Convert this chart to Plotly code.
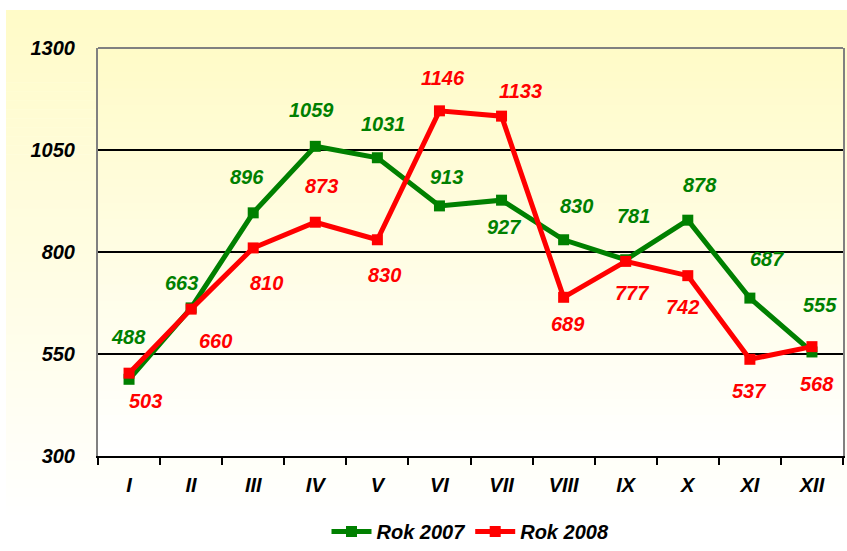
import plotly.graph_objects as go

# ---- data ----
months = ["I", "II", "III", "IV", "V", "VI", "VII", "VIII", "IX", "X", "XI", "XII"]
rok_2007 = [488, 663, 896, 1059, 1031, 913, 927, 830, 781, 878, 687, 555]
rok_2008 = [503, 660, 810, 873, 830, 1146, 1133, 689, 777, 742, 537, 568]
y_ticks = [300, 550, 800, 1050, 1300]

# ---- styles ----
W, H = 847, 551
ML, MR, MT, MB = 98, 4, 48, 95
PW, PH = W - ML - MR, H - MT - MB
GREEN, RED = "#008000", "#FF0000"
FONT = "Liberation Sans, Arial, sans-serif"

# label offsets (xshift, yshift) in px
off_2007 = [(-1, 42), (-10, 25), (-6, 36), (-4, 36), (6, 34), (7, 29), (2, -27),
            (13, 34), (8, 44), (12, 35), (17, 39), (8, 47)]
off_2008 = [(16, -28), (24, -32), (13, -35), (6, 36), (7, -35), (4, 33), (19, 25),
            (4, -27), (6, -32), (-5, -31), (-1, -32), (5, -37)]


def px2px_x(x):
    return (x - ML) / PW


def px2py(y):
    return (H - MB - y) / PH


def lerp_color(c1, c2, t):
    return "rgb(%d,%d,%d)" % tuple(round(a + (b - a) * t) for a, b in zip(c1, c2))


TOP = (255, 251, 200)
BOT = (255, 255, 255)

shapes = []
# outer chart-area gradient
N = 60
y0, y1 = 10, H
for k in range(N):
    ya = y0 + (y1 - y0) * k / N
    yb = y0 + (y1 - y0) * (k + 1) / N + 0.6
    shapes.append(dict(type="rect", xref="paper", yref="paper", layer="below",
                       x0=px2px_x(6), x1=px2px_x(W), y0=px2py(yb), y1=px2py(ya),
                       line=dict(width=0),
                       fillcolor=lerp_color(TOP, BOT, min(1, k / (N - 1) * 1.05))))
# plot-area gradient
N2 = 50
for k in range(N2):
    ya = k / N2
    yb = (k + 1) / N2
    shapes.append(dict(type="rect", xref="paper", yref="paper", layer="below",
                       x0=0, x1=1, y0=1 - yb - 0.003, y1=1 - ya,
                       line=dict(width=0),
                       fillcolor=lerp_color(TOP, BOT, k / (N2 - 1))))
# grey top border
shapes.append(dict(type="line", xref="paper", yref="paper", layer="above",
                   x0=0, x1=1, y0=1, y1=1, line=dict(color="#808080", width=2)))

fig = go.Figure()
fig.add_trace(go.Scatter(
    x=months, y=rok_2007, name="Rok 2007", mode="lines+markers",
    line=dict(color=GREEN, width=5),
    marker=dict(symbol="square", size=11, color=GREEN),
))
fig.add_trace(go.Scatter(
    x=months, y=rok_2008, name="Rok 2008", mode="lines+markers",
    line=dict(color=RED, width=5),
    marker=dict(symbol="square", size=11, color=RED),
))

annotations = []
for vals, offs, col in ((rok_2007, off_2007, GREEN), (rok_2008, off_2008, RED)):
    for m, v, (dx, dy) in zip(months, vals, offs):
        annotations.append(dict(
            x=m, y=v, xref="x", yref="y", text=str(v), showarrow=False,
            xshift=dx, yshift=dy,
            font=dict(family=FONT, size=20, color=col, weight="bold", style="italic"),
        ))

fig.update_layout(
    width=W, height=H,
    margin=dict(l=ML, r=MR, t=MT, b=MB, pad=0, autoexpand=False),
    paper_bgcolor="white",
    plot_bgcolor="rgba(0,0,0,0)",
    shapes=shapes,
    annotations=annotations,
    showlegend=True,
    legend=dict(orientation="h", x=0.5, xanchor="center",
                yref="container", y=0.0, yanchor="bottom",
                font=dict(family=FONT, size=20, color="black", weight="bold", style="italic"),
                bgcolor="rgba(0,0,0,0)", itemwidth=40, traceorder="normal"),
    xaxis=dict(
        type="category", categoryorder="array", categoryarray=months,
        range=[-0.5, len(months) - 0.5],
        showline=True, linecolor="black", linewidth=2,
        ticks="outside", ticklen=7, tickwidth=2, tickcolor="black",
        tickson="boundaries", showgrid=False,
        tickfont=dict(family=FONT, size=20, color="black", weight="bold", style="italic"),
        ticklabelstandoff=10,
    ),
    yaxis=dict(
        range=[300, 1300], tickvals=y_ticks,
        showline=True, linecolor="#808080", linewidth=2, mirror=True,
        showgrid=True, gridcolor="black", gridwidth=2, zeroline=False,
        ticks="", tickfont=dict(family=FONT, size=20, color="black", weight="bold", style="italic"),
        ticklabelstandoff=17,
    ),
    font=dict(family=FONT),
)

fig.write_html("out.html", config={"displayModeBar": False},
               post_script="document.body.style.margin='0';document.body.style.overflow='hidden';")
